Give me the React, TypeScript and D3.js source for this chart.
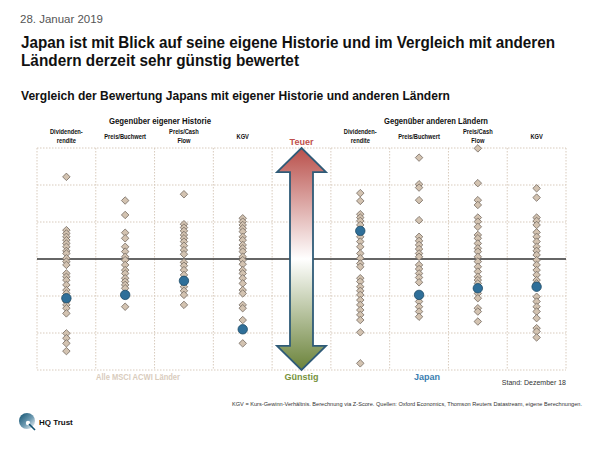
import React from "react";
import * as d3 from "d3";

// ---- data (z-scores) ----
const columns = ["h_div", "h_pb", "h_pcf", "h_kgv", "arrow", "c_div", "c_pb", "c_pcf", "c_kgv"];
const categoryLabels: string[][] = [
  ["Dividenden-", "rendite"], ["Preis/Buchwert"], ["Preis/Cash", "Flow"], ["KGV"],
  [],
  ["Dividenden-", "rendite"], ["Preis/Buchwert"], ["Preis/Cash", "Flow"], ["KGV"],
];
const histDiv = [2.22, 0.78, 0.69, 0.60, 0.51, 0.42, 0.33, 0.22, 0.15, 0.02, -0.07, -0.16, -0.39, -0.48, -0.57, -0.70, -0.84, -0.93, -1.15, -1.24, -1.33, -1.47, -2.01, -2.14, -2.28, -2.49];
const histPB = [1.58, 1.19, 0.71, 0.56, 0.33, 0.20, 0.06, -0.03, -0.16, -0.30, -0.39, -0.52, -0.61, -0.70, -0.79, -1.29];
const histPCF = [1.75, 0.94, 0.85, 0.76, 0.65, 0.56, 0.47, 0.36, 0.24, 0.13, -0.09, -0.18, -0.30, -0.43, -0.75, -0.86, -0.97, -1.24];
const histKGV = [1.10, 1.01, 0.92, 0.83, 0.74, 0.60, 0.51, 0.38, 0.29, 0.20, 0.06, -0.03, -0.14, -0.30, -0.39, -0.52, -0.66, -0.84, -0.93, -1.24, -1.33, -1.65, -2.28];
const ctryDiv = [1.78, 1.57, 1.21, 1.12, 1.03, 0.92, 0.60, 0.47, 0.33, 0.15, 0.02, -0.12, -0.21, -0.52, -0.61, -0.75, -0.86, -0.97, -1.11, -1.24, -1.38, -1.51, -1.65, -1.98, -2.82];
const ctryPB = [2.74, 2.02, 1.93, 1.59, 1.05, 0.60, 0.49, 0.38, 0.27, 0.15, 0.06, -0.16, -0.27, -0.39, -0.50, -0.63, -1.15, -1.29, -1.42, -1.56];
const ctryPCF = [2.99, 2.05, 1.59, 1.46, 1.12, 1.01, 0.87, 0.65, 0.56, 0.42, 0.29, 0.20, 0.06, -0.07, -0.21, -0.34, -0.48, -0.57, -0.66, -0.93, -1.06, -1.33, -1.42, -1.69];
const ctryKGV = [1.91, 1.66, 1.12, 1.03, 0.92, 0.72, 0.60, 0.47, 0.33, 0.22, 0.11, -0.03, -0.16, -0.30, -0.43, -0.57, -0.66, -1.02, -1.15, -1.29, -1.42, -1.60, -1.87, -1.96, -2.12];
const seriesByColumn: Record<string, number[]> = {
  h_div: histDiv, h_pb: histPB, h_pcf: histPCF, h_kgv: histKGV,
  c_div: ctryDiv, c_pb: ctryPB, c_pcf: ctryPCF, c_kgv: ctryKGV,
};
const japanByColumn: Record<string, number> = {
  h_div: -1.06, h_pb: -0.97, h_pcf: -0.59, h_kgv: -1.90,
  c_div: 0.76, c_pb: -0.97, c_pcf: -0.79, c_kgv: -0.75,
};
const yTicks = [-3, -2, -1, 0, 1, 2, 3];

const FONT = "'Liberation Sans', Arial, sans-serif";

export default function App() {
  const W = 600, H = 450;
  const x = d3.scaleBand<string>().domain(columns).range([37, 566]).padding(0);
  const y = d3.scaleLinear().domain([-3, 3]).range([370, 148]);
  const bw = x.bandwidth();
  const cx = (c: string) => (x(c) as number) + bw / 2;
  const diamond = d3.symbol().type(d3.symbolSquare).size(28)()!;
  const circle = d3.symbol().type(d3.symbolCircle).size(70)()!;
  const gridColor = "#d8cbbd";

  // arrow geometry from scales
  const ac = cx("arrow");
  const yTop = y(3), yBot = y(-3);
  const headH = y(2.35) - yTop;
  const headHalf = 24.5, shaftHalf = 11.5;
  const arrowPath = d3.path();
  arrowPath.moveTo(ac, yTop);
  arrowPath.lineTo(ac + headHalf, yTop + headH);
  arrowPath.lineTo(ac + shaftHalf, yTop + headH);
  arrowPath.lineTo(ac + shaftHalf, yBot - headH);
  arrowPath.lineTo(ac + headHalf, yBot - headH);
  arrowPath.lineTo(ac, yBot);
  arrowPath.lineTo(ac - headHalf, yBot - headH);
  arrowPath.lineTo(ac - shaftHalf, yBot - headH);
  arrowPath.lineTo(ac - shaftHalf, yTop + headH);
  arrowPath.lineTo(ac - headHalf, yTop + headH);
  arrowPath.closePath();

  const boundaries = d3.range(columns.length + 1).map((i) => 37 + i * bw);

  return (
    <svg width={W} height={H} style={{ display: "block", position: "absolute", left: 0, top: 0 }} fontFamily={FONT}>
      <defs>
        <linearGradient id="ag" x1="0" y1={yTop} x2="0" y2={yBot} gradientUnits="userSpaceOnUse">
          <stop offset="0" stopColor="#b9504b" />
          <stop offset="0.5" stopColor="#ffffff" />
          <stop offset="1" stopColor="#6b833a" />
        </linearGradient>
        <linearGradient id="lg" x1="0" y1="0" x2="1" y2="1">
          <stop offset="0" stopColor="#0d4f6e" />
          <stop offset="0.55" stopColor="#6e9bb2" />
          <stop offset="1" stopColor="#ffffff" />
        </linearGradient>
      </defs>
      <rect width={W} height={H} fill="#fff" />

      <text x={20} y={23} fontSize={10.5} fill="#555" textLength={83} lengthAdjust="spacingAndGlyphs">28. Januar 2019</text>
      <text x={21} y={48} fontSize={16.5} fontWeight="bold" fill="#111" textLength={534} lengthAdjust="spacingAndGlyphs">Japan ist mit Blick auf seine eigene Historie und im Vergleich mit anderen</text>
      <text x={21} y={66} fontSize={16.5} fontWeight="bold" fill="#111" textLength={278} lengthAdjust="spacingAndGlyphs">Ländern derzeit sehr günstig bewertet</text>
      <text x={21} y={100} fontSize={12} fontWeight="bold" fill="#111" textLength={429} lengthAdjust="spacingAndGlyphs">Vergleich der Bewertung Japans mit eigener Historie und anderen Ländern</text>

      <text x={160} y={124} fontSize={9} fontWeight="bold" textAnchor="middle" fill="#111" textLength={102} lengthAdjust="spacingAndGlyphs">Gegenüber eigener Historie</text>
      <text x={436} y={124} fontSize={9} fontWeight="bold" textAnchor="middle" fill="#111" textLength={104} lengthAdjust="spacingAndGlyphs">Gegenüber anderen Ländern</text>

      {columns.map((c, i) => {
        const lines = categoryLabels[i];
        return lines.map((l, j) => (
          <text key={c + j} x={cx(c)} y={lines.length === 1 ? 139 : 134 + j * 9} fontSize={7} fontWeight="bold" textAnchor="middle" fill="#111"
            transform={`translate(${cx(c)},0) scale(0.82,1) translate(${-cx(c)},0)`}>{l}</text>
        ));
      })}

      {/* grid */}
      {yTicks.filter((t) => t !== 0).map((t) => (
        <line key={"h" + t} x1={37} x2={566} y1={y(t)} y2={y(t)} stroke={gridColor} strokeWidth={1} strokeDasharray="1.5,1.5" />
      ))}
      {boundaries.map((b, i) => (
        <line key={"v" + i} x1={b} x2={b} y1={y(3)} y2={y(-3)} stroke={gridColor} strokeWidth={1} strokeDasharray="1.5,1.5" />
      ))}
      <line x1={37} x2={566} y1={y(0)} y2={y(0)} stroke="#333" strokeWidth={1.4} />

      {/* arrow */}
      <path d={arrowPath.toString()} fill="url(#ag)" stroke="#2f5b78" strokeWidth={1.8} strokeLinejoin="miter" />
      <text x={ac} y={145} fontSize={9} fontWeight="bold" textAnchor="middle" fill="#c0504d">Teuer</text>
      <text x={ac} y={380} fontSize={9} fontWeight="bold" textAnchor="middle" fill="#76923c">Günstig</text>

      {/* dots */}
      {columns.filter((c) => seriesByColumn[c]).map((c) => (
        <g key={c}>
          {seriesByColumn[c].map((v, k) => (
            <path key={k} d={diamond} transform={`translate(${cx(c)},${y(v)}) rotate(45)`} fill="#d3c3b1" stroke="#7a6f66" strokeWidth={0.8} />
          ))}
          <path d={circle} transform={`translate(${cx(c)},${y(japanByColumn[c])})`} fill="#2f6f99" stroke="#1d4a66" strokeWidth={0.8} />
        </g>
      ))}

      <text x={138} y={380} fontSize={9} fontWeight="bold" textAnchor="middle" fill="#d9ccbd" textLength={84} lengthAdjust="spacingAndGlyphs">Alle MSCI ACWI Länder</text>
      <text x={427} y={380} fontSize={9} fontWeight="bold" textAnchor="middle" fill="#3a7db0">Japan</text>
      <text x={566} y={385} fontSize={7} textAnchor="end" fill="#333">Stand: Dezember 18</text>
      <text x={582} y={406} fontSize={5.5} textAnchor="end" fill="#333" textLength={350} lengthAdjust="spacingAndGlyphs">KGV = Kurs-Gewinn-Verhältnis.  Berechnung  via Z-Score. Quellen:  Oxford  Economics,  Thomson Reuters Datastream,  eigene Berechnungen.</text>

      {/* logo */}
      <circle cx={27} cy={421} r={8} fill="url(#lg)" />
      <circle cx={28} cy={423} r={2.2} fill="#fff" />
      <line x1={29} y1={424} x2={35} y2={430} stroke="#0d4f6e" strokeWidth={1.6} />
      <text x={39} y={425} fontSize={8} fontWeight="bold" fill="#111">HQ Trust</text>
    </svg>
  );
}
